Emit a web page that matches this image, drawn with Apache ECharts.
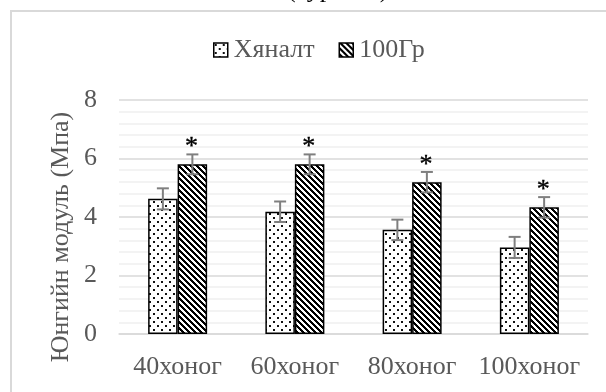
<!DOCTYPE html>
<html>
<head>
<meta charset="utf-8">
<script src="https://cdn.jsdelivr.net/npm/echarts@6/dist/echarts.min.js"></script>
<style>
html,body{margin:0;padding:0;background:#fff;}
#chart{width:606px;height:392px;}
</style>
</head>
<body>
<div id="chart"></div>
<script>
const categories = ['40хоног', '60хоног', '80хоног', '100хоног'];
const controlValues = [4.62, 4.18, 3.56, 2.96];
const controlErrors = [0.36, 0.35, 0.35, 0.36];
const doseValues = [5.80, 5.80, 5.19, 4.33];
const doseErrors = [0.34, 0.34, 0.35, 0.35];
const doseMarks = ['*', '*', '*', '*'];
const seriesNames = ['Хяналт', '100Гр'];
const yTicks = [0, 2, 4, 6, 8];

const FONT = '"Liberation Serif", "Times New Roman", serif';
const TEXT = '#595959';
const BAR_W = 29.5;

function dotPattern() {
  const c = document.createElement('canvas');
  c.width = 8; c.height = 8;
  const g = c.getContext('2d');
  g.fillStyle = '#fff'; g.fillRect(0, 0, 8, 8);
  g.fillStyle = '#111';
  g.fillRect(1, 1, 2, 2);
  g.fillRect(5, 5, 2, 2);
  return c;
}
function stripePattern() {
  const n = 6;
  const c = document.createElement('canvas');
  c.width = n; c.height = n;
  const g = c.getContext('2d');
  const img = g.createImageData(n, n);
  for (let y = 0; y < n; y++) for (let x = 0; x < n; x++) {
    const k = (((x - y) % n) + n) % n;
    const v = k < 3 ? 0 : 255;
    const i = (y * n + x) * 4;
    img.data[i] = v; img.data[i + 1] = v; img.data[i + 2] = v; img.data[i + 3] = 255;
  }
  g.putImageData(img, 0, 0);
  return c;
}

const dotFill = { image: dotPattern(), repeat: 'repeat' };
const stripeFill = { image: stripePattern(), repeat: 'repeat' };

function errData(vals, errs) {
  return vals.map((v, i) => [i, v, errs[i]]);
}

function errRender(side) {
  return function (params, api) {
    const idx = api.value(0);
    const v = api.value(1);
    const e = api.value(2);
    const mark = params.seriesIndex === 3 ? doseMarks[idx] : '';
    const top = api.coord([idx, v + e]);
    const bot = api.coord([idx, v - e]);
    const x = top[0] + side * BAR_W / 2;
    const cap = 6;
    const st = { stroke: '#7f7f7f', lineWidth: 2 };
    const children = [
      { type: 'line', shape: { x1: x, y1: top[1], x2: x, y2: bot[1] }, style: st },
      { type: 'line', shape: { x1: x - cap, y1: top[1], x2: x + cap, y2: top[1] }, style: st },
      { type: 'line', shape: { x1: x - cap, y1: bot[1], x2: x + cap, y2: bot[1] }, style: st }
    ];
    if (mark) {
      children.push({
        type: 'text',
        style: { text: mark, x: x - 1, y: top[1] + 6, align: 'center', verticalAlign: 'bottom',
                 font: '26px ' + FONT, fill: '#000', stroke: '#000', lineWidth: 0.4 }
      });
    }
    return { type: 'group', children: children };
  };
}

const chart = echarts.init(document.getElementById('chart'), null, { renderer: 'canvas' });
chart.setOption({
  animation: false,
  backgroundColor: '#fff',
  textStyle: { fontFamily: FONT },
  legend: {
    data: seriesNames,
    left: 213, top: 37, padding: 0,
    icon: 'rect', itemWidth: 14, itemHeight: 14, itemGap: 24,
    textStyle: { fontFamily: FONT, fontSize: 26, color: TEXT, padding: [0, 0, 0, 1] },
    itemStyle: { borderColor: '#000', borderWidth: 1.5 }
  },
  grid: { left: 119, right: 18, top: 100, bottom: 58, containLabel: false },
  xAxis: {
    type: 'category', data: categories,
    axisLine: { show: true, lineStyle: { color: '#d9d9d9', width: 1.5 } },
    axisTick: { show: false },
    axisLabel: { fontFamily: FONT, fontSize: 26, color: TEXT, margin: 20, interval: 0, hideOverlap: false }
  },
  yAxis: {
    type: 'value', min: yTicks[0], max: yTicks[yTicks.length - 1], interval: 2,
    axisLine: { show: false }, axisTick: { show: false },
    axisLabel: { fontFamily: FONT, fontSize: 26, color: TEXT, margin: 22 },
    splitLine: { lineStyle: { color: '#d9d9d9', width: 1.5 } },
    minorTick: { show: false, splitNumber: 5 },
    minorSplitLine: { show: true, lineStyle: { color: '#f0f0f0', width: 1.5 } }
  },
  graphic: [
    { type: 'rect', shape: { x: 11, y: 11, width: 700, height: 500 },
      style: { fill: 'none', stroke: '#d9d9d9', lineWidth: 2 }, silent: true },
    { type: 'text', left: 287, top: -23, silent: true,
      style: { text: '(сургалт)', font: '26px ' + FONT, fill: '#000' } },
    { type: 'text', x: 61, y: 237, rotation: Math.PI / 2, silent: true,
      style: { text: 'Юнгийн модуль (Мпа)', font: '26px ' + FONT, fill: TEXT,
               align: 'center', verticalAlign: 'middle' } }
  ],
  series: [
    { name: seriesNames[0], type: 'bar', data: controlValues, barWidth: BAR_W, barGap: '0%',
      itemStyle: { color: dotFill, borderColor: '#000', borderWidth: 1.5 } },
    { name: seriesNames[1], type: 'bar', data: doseValues, barWidth: BAR_W, barGap: '0%',
      itemStyle: { color: stripeFill, borderColor: '#000', borderWidth: 1.5 } },
    { type: 'custom', renderItem: errRender(-1), data: errData(controlValues, controlErrors),
      encode: { x: 0, y: 1 }, z: 5, silent: true },
    { type: 'custom', renderItem: errRender(1), data: errData(doseValues, doseErrors),
      encode: { x: 0, y: 1 }, z: 5, silent: true }
  ]
});
</script>
</body>
</html>
